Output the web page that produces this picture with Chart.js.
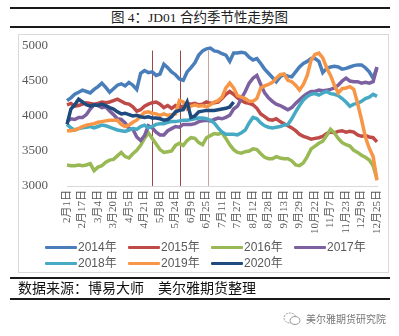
<!DOCTYPE html>
<html>
<head>
<meta charset="utf-8">
<script src="https://cdn.jsdelivr.net/npm/chart.js@4.4.0/dist/chart.umd.min.js"></script>
<style>
  body { margin: 0; width: 399px; height: 336px; background: #fff; position: relative; overflow: hidden;
         font-family: "Liberation Serif", "Noto Sans CJK SC", serif; }
  .rule { position: absolute; left: 10px; width: 380px; height: 2px; background: #1a1a1a; }
  #title { position: absolute; left: 0; width: 399px; top: 9px; text-align: center; font-size: 13.5px;
           line-height: 18px; color: #222; }
  #box { position: absolute; left: 18px; top: 34px; width: 369px; height: 237px; border: 1px solid #d9d9d9; }
  #chart { position: absolute; left: 0; top: 0; }
  .item { position: absolute; height: 16px; line-height: 16px; display: flex; align-items: center;
          font-family: "Liberation Sans", "Noto Sans CJK SC", sans-serif; font-size: 12px; color: #595959; }
  .swatch { display: inline-block; width: 32px; height: 3px; margin-right: 1px; border-radius: 1px; }
  #source { position: absolute; left: 18px; top: 281px; font-size: 14px; line-height: 16px; color: #111; }
  #mark { position: absolute; left: 283px; top: 311px; display: flex; align-items: center;
          font-family: "Noto Sans CJK SC", sans-serif; font-size: 10px; color: #777; }
</style>
</head>
<body>
<div class="rule" style="top:7px"></div>
<div id="title">图 4：JD01 合约季节性走势图</div>
<div class="rule" style="top:26px"></div>

<div id="box">
  <canvas id="chart" width="368" height="205"></canvas>
</div>

<div class="rule" style="top:277px"></div>
<div id="source">数据来源：博易大师　美尔雅期货整理</div>
<div class="rule" style="top:298px"></div>

<div id="mark">
  <svg width="18" height="14" viewBox="0 0 18 14" style="margin-right:5px">
    <ellipse cx="7" cy="6" rx="6" ry="5" fill="none" stroke="#999" stroke-width="1" stroke-dasharray="2 1"/>
    <ellipse cx="12" cy="8.5" rx="5" ry="4" fill="#fff" stroke="#999" stroke-width="1"/>
  </svg>
  <span>美尔雅期货研究院</span>
</div>

<script>
// x axis: one category every few trading days, a date label every 4th point
const dateTicks = ['2月1日', '2月17日', '3月4日', '3月20日', '4月5日', '4月21日', '5月8日', '5月24日',
  '6月9日', '6月25日', '7月11日', '7月27日', '8月12日', '8月28日', '9月13日', '9月29日',
  '10月22日', '11月7日', '11月23日', '12月9日', '12月25日'];
const stepsPerTick = 4;

const seriesNames = ['2014年', '2015年', '2016年', '2017年', '2018年', '2019年', '2020年'];
const seriesColors = ['#4a7ebb', '#be4b48', '#98b954', '#7d60a0', '#46aac5', '#f79646', '#1f4a7d'];

const y2014 = [4220, 4260, 4310, 4340, 4370, 4350, 4330, 4380, 4420, 4470,
  4410, 4340, 4390, 4440, 4460, 4430, 4480, 4440, 4380, 4610,
  4650, 4620, 4630, 4580, 4600, 4740, 4690, 4630, 4590, 4530,
  4510, 4630, 4690, 4760, 4870, 4930, 4960, 4970, 4930, 4920,
  4890, 4870, 4780, 4900, 4900, 4910, 4900, 4840, 4800, 4820,
  4750, 4670, 4610, 4550, 4490, 4560, 4590, 4570, 4560, 4630,
  4700, 4750, 4780, 4820, 4820, 4780, 4620, 4680, 4700, 4710,
  4700, 4670, 4680, 4700, 4720, 4730, 4730, 4690, 4630, 4540,
  4690];
const y2015 = [4160, 4180, 4140, 4150, 4170, 4190, 4180, 4170, 4180, 4200,
  4190, 4200, 4220, 4240, 4210, 4180, 4170, 4130, 4070, 4090,
  4140, 4170, 4190, 4200, 4170, 4120, 4150, 4110, 4150, 4130,
  4140, 4180, 4170, 4180, 4160, 4170, 4200, 4180, 4190, 4200,
  4250, 4310, 4350, 4310, 4260, 4220, 4190, 4180, 4160, 4110,
  4030, 3990, 3950, 3940, 3960, 3920, 3890, 3860, 3830, 3790,
  3740, 3710, 3690, 3670, 3680, 3690, 3710, 3750, 3770, 3760,
  3780, 3790, 3770, 3780, 3770, 3730, 3710, 3720, 3700, 3690,
  3630];
const y2016 = [3300, 3290, 3290, 3300, 3290, 3300, 3320, 3220, 3270, 3290,
  3340, 3370, 3380, 3430, 3480, 3420, 3400, 3460, 3510, 3580,
  3680, 3760, 3680, 3600, 3520, 3480, 3490, 3500, 3580, 3610,
  3580, 3650, 3690, 3680, 3620, 3590, 3690, 3720, 3750, 3740,
  3760, 3680, 3590, 3520, 3480, 3470, 3490, 3500, 3530, 3520,
  3460, 3410, 3390, 3390, 3420, 3400, 3390, 3390, 3360, 3300,
  3290, 3330, 3420, 3530, 3570, 3610, 3640, 3720, 3810, 3760,
  3680, 3620, 3590, 3570, 3510, 3480, 3440, 3410, 3370, 3290,
  3100];
const y2017 = [3920, 3960, 3950, 3980, 3980, 4020, 4100, 4160, 4150, 4120,
  4130, 4070, 4020, 3960, 3950, 3900, 3820, 3810, 3700, 3650,
  3720, 3860, 3830, 3770, 3730, 3730, 3790, 3820, 3850, 3840,
  3880, 3880, 3880, 3890, 3920, 3930, 3940, 3930, 3950, 3970,
  3960, 3980, 4010, 4100, 4140, 4250, 4350, 4470, 4540, 4580,
  4450, 4330, 4260, 4210, 4170, 4150, 4120, 4090, 4120, 4180,
  4230, 4280, 4320, 4350, 4350, 4370, 4360, 4370, 4380, 4400,
  4440, 4500, 4540, 4500, 4490, 4490, 4470, 4480, 4470, 4490,
  4700];
const y2018 = [3880, 3830, 3800, 3820, 3830, 3840, 3850, 3830, 3850, 3870,
  3860, 3840, 3820, 3800, 3790, 3780, 3800, 3820, 3810, 3850,
  3870, 3830, 3850, 3880, 3890, 3890, 3910, 3920, 3920, 3930,
  3940, 3940, 3950, 3960, 3970, 3970, 3960, 3940, 3900, 3830,
  3770, 3740, 3740, 3740, 3730, 3760, 3800, 3900, 3980, 3960,
  3900, 3860, 3840, 3830, 3840, 3850, 3870, 3880, 3960, 4060,
  4150, 4230, 4280, 4310, 4320, 4300, 4330, 4350, 4320, 4310,
  4290, 4250, 4200, 4140, 4170, 4180, 4210, 4250, 4270, 4310,
  4280];
const y2019 = [3790, 3790, 3800, 3820, 3850, 3870, 3880, 3890, 3910, 3920,
  3930, 3940, 3940, 3940, 3880, 3850, 3870, 3910, 3940, 4000,
  4050, 4060, 4040, 4030, 4010, 4030, 4010, 4020, 4030, 4220,
  4200, 4100, 4140, 4160, 4140, 4150, 4130, 4160, 4200, 4220,
  4270, 4400, 4470, 4400, 4290, 4270, 4250, 4210, 4210, 4250,
  4400, 4430, 4450, 4480, 4540, 4590, 4600, 4510, 4490, 4440,
  4370, 4450, 4580, 4800, 4880, 4900, 4830, 4690, 4580, 4440,
  4330, 4390, 4400, 4420, 4380, 4180, 3950, 3700, 3540, 3420,
  3080];
const y2020 = [3880, 4100, 4160, 4240, 4200, 4160, 4140, 4160, 4150, 4170,
  4150, 4120, 4100, 4060, 4030, 4040, 4020, 4000, 4010, 3990,
  3980, 3990, 3970, 3970, 3960, 3940, 3950, 3990, 4060, 4080,
  4090, 4200, 3980, 4000, 4060, 4070, 4080, 4080, 4080, 4090,
  4100, 4110, 4130, 4200];

// reference dates marked by vertical lines (position on the category axis)
const markerAt = [21.9, 29.2, 36.5];
const markerColors = ['#9b4848', '#9b4848', '#c9a2a2'];
const markerTop = 4935;

const seriesData = [y2014, y2015, y2016, y2017, y2018, y2019, y2020];
const pointCount = y2014.length;
const labels = Array.from({ length: pointCount }, (_, i) =>
  i % stepsPerTick === 0 ? dateTicks[i / stepsPerTick] : '');

const markerLines = {
  id: 'markerLines',
  beforeDatasetsDraw(chart) {
    const { ctx, scales: { x, y } } = chart;
    ctx.save();
    ctx.lineWidth = 1;
    markerAt.forEach((v, k) => {
      const px = Math.round(x.getPixelForValue(v)) + 0.5;
      ctx.strokeStyle = markerColors[k];
      ctx.beginPath();
      ctx.moveTo(px, y.getPixelForValue(markerTop));
      ctx.lineTo(px, y.bottom);
      ctx.stroke();
    });
    ctx.restore();
  }
};

const tickFont = { family: '"Liberation Serif", "Noto Sans CJK SC", serif' };

new Chart(document.getElementById('chart'), {
  type: 'line',
  data: {
    labels: labels,
    datasets: seriesNames.map((name, i) => ({
      label: name,
      data: seriesData[i],
      borderColor: seriesColors[i],
      backgroundColor: seriesColors[i],
      borderWidth: 3.5,
      pointRadius: 0,
      tension: 0,
      fill: false,
      order: -i
    }))
  },
  options: {
    responsive: false,
    animation: false,
    layout: { padding: { top: 11, right: 10, left: 0, bottom: 0 } },
    plugins: { legend: { display: false }, tooltip: { enabled: false } },
    scales: {
      x: {
        grid: { display: false, drawTicks: false },
        border: { display: true, color: '#d9d9d9' },
        ticks: { autoSkip: false, minRotation: 90, maxRotation: 90, padding: 4, color: '#595959',
                 font: { ...tickFont, size: 11 } },
        afterFit(scale) {
          scale.height = 54;
          scale.paddingLeft = 0;
          scale.paddingRight = 0;
        }
      },
      y: {
        min: 3000, max: 5000,
        grid: { display: false, drawTicks: false },
        border: { display: false },
        ticks: { stepSize: 500, padding: 19, color: '#595959', font: { ...tickFont, size: 13 },
                 callback: v => String(v) },
        afterFit(scale) {
          scale.width = 48;
          scale.paddingTop = 0;
          scale.paddingBottom = 0;
        }
      }
    }
  },
  plugins: [markerLines]
});

// legend laid out as a two-row grid under the plot
const box = document.getElementById('box');
seriesNames.forEach((name, i) => {
  const item = document.createElement('div');
  item.className = 'item';
  item.style.left = (26 + (i % 4) * 83) + 'px';
  item.style.top = (i < 4 ? 204 : 220) + 'px';
  item.innerHTML = '<span class="swatch" style="background:' + seriesColors[i] + '"></span>' + name;
  box.appendChild(item);
});
</script>
</body>
</html>
